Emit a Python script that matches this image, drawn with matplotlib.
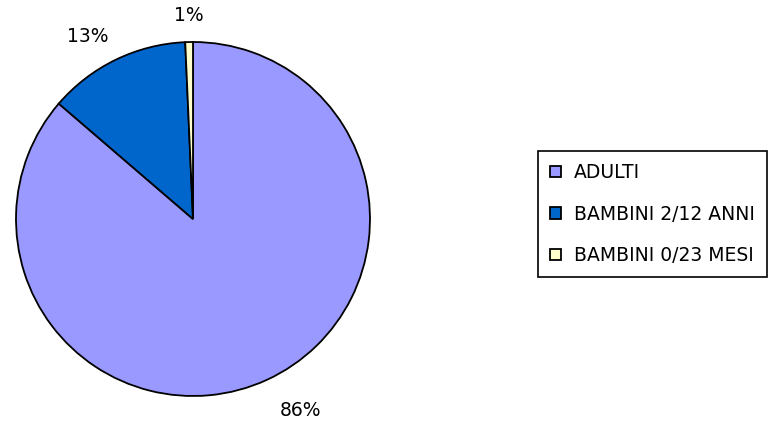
import numpy as np
import matplotlib.pyplot as plt

labels = ["ADULTI", "BAMBINI 2/12 ANNI", "BAMBINI 0/23 MESI"]
values = [86.3, 13.0, 0.7]
colors = ["#9999FF", "#0066CC", "#FFFFCC"]

plt.rcParams['font.family'] = ['DejaVu Sans']

W, H = 771, 428
fig = plt.figure(figsize=(W / 100, H / 100), dpi=100)

# pie centre and radius in pixels
cx, cy, r = 193, 219, 177
ax = fig.add_axes([(cx - r) / W, (H - cy - r) / H, 2 * r / W, 2 * r / H])

wedges, texts, autotexts = ax.pie(
    values, colors=colors, startangle=90, counterclock=False,
    autopct="%1.0f%%", pctdistance=1.2,
    wedgeprops=dict(edgecolor="black", linewidth=1.3),
    textprops=dict(fontsize=13.5, color="black"),
)
# label placement per slice (distance from centre, angle nudge in degrees)
label_dist = [1.24, 1.19, 1.15]
label_nudge = [4.8, 4, 0]
for w, t, d, n in zip(wedges, autotexts, label_dist, label_nudge):
    ang = np.deg2rad((w.theta1 + w.theta2) / 2 + n)
    t.set_position((d * np.cos(ang), d * np.sin(ang)))

ax.set_xlim(-1, 1)
ax.set_ylim(-1, 1)
ax.set_aspect("auto")
ax.axis("off")

leg = fig.legend(
    wedges, labels, loc="upper left",
    bbox_to_anchor=(538 / W, 1 - 151 / H),
    fancybox=False, edgecolor="black", framealpha=1,
    fontsize=13.5, handlelength=0.55, handleheight=0.55,
    handletextpad=0.7, labelspacing=1.2, borderpad=0.65,
    borderaxespad=0,
)
leg.get_frame().set_linewidth(1.2)

fig.savefig("out.png", dpi=100)
